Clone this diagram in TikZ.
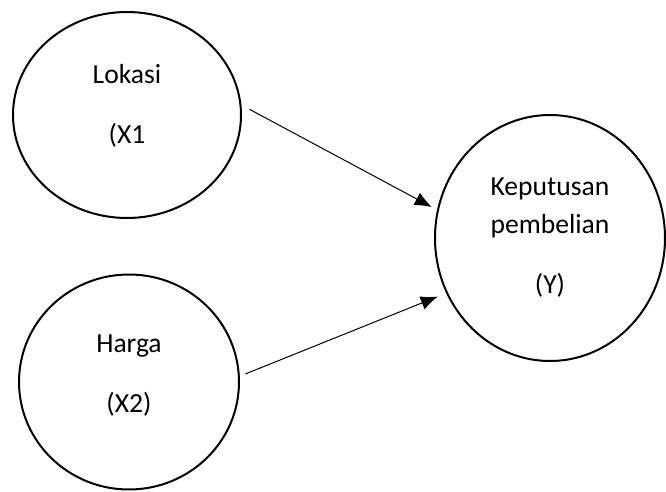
\documentclass[tikz,border=0pt]{standalone}
\usepackage{fontspec}
\setmainfont{Carlito}
\usetikzlibrary{shapes.geometric,arrows.meta}

\begin{document}
\begin{tikzpicture}[x=0.5pt,y=-0.5pt,
   var/.style={ellipse,draw,line width=1pt,inner sep=0pt,align=center,
     font=\fontsize{13.8}{19}\selectfont}]
   \useasboundingbox (0,0) rectangle (666,492);
   \node[var,minimum width=114pt,minimum height=103pt,text depth=11pt] (lok) at (127,115) {Lokasi\\[11pt](X1};
   \node[var,minimum width=110pt,minimum height=107.5pt,text depth=8pt] (hrg) at (129,382) {Harga\\[11pt](X2)};
   \node[var,minimum width=115pt,minimum height=123pt] (kep) at (550,238) {Keputusan\\pembelian\\[11pt](Y)};
    \path[-{Latex[length=8.5pt,width=7pt]},line width=0.5pt]
    (lok.5) edge [shorten <=4.5pt,shorten >=3pt] (kep.166)
    (hrg.3) edge [shorten <=3pt,shorten >=4.5pt] (kep.208);
\end{tikzpicture}
\end{document}
